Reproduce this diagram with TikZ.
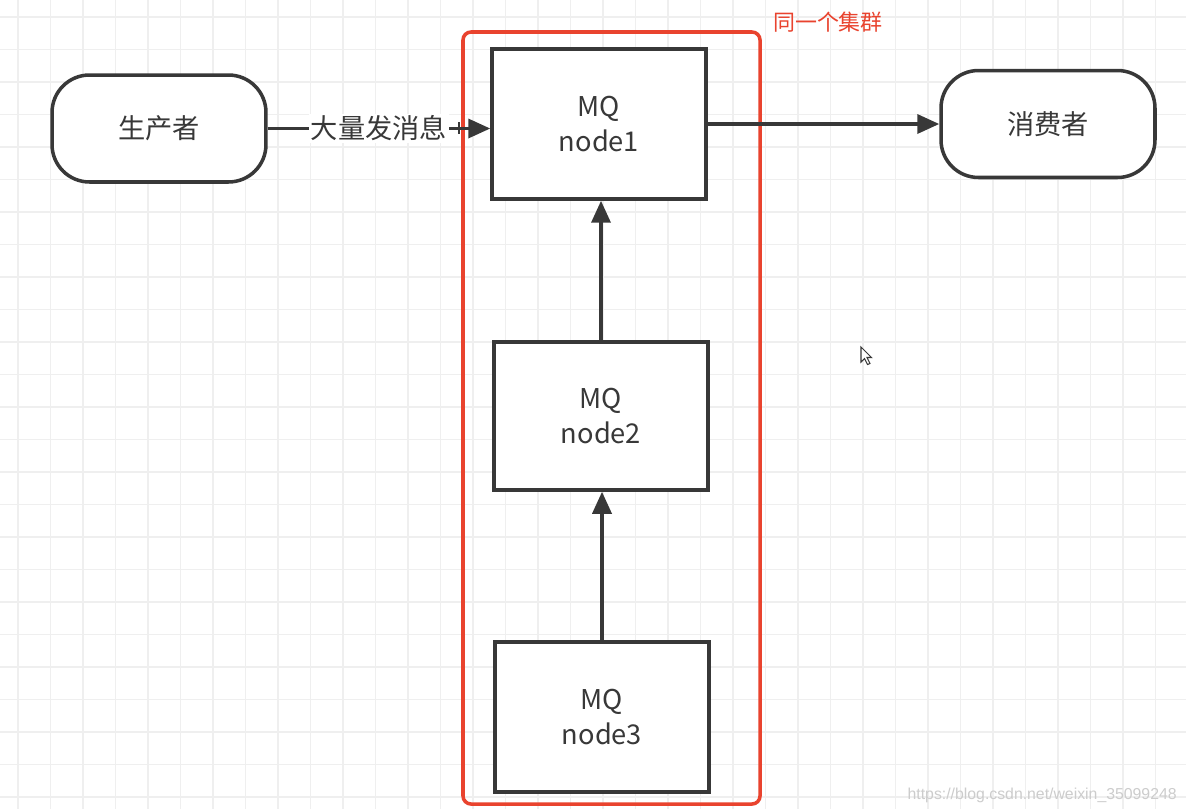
\documentclass[tikz,border=0pt]{standalone}
\usepackage{fontspec}
\setmainfont{Noto Sans CJK SC}
\newfontfamily\urlfont{Liberation Sans}
\usetikzlibrary{positioning, arrows.meta}

\begin{document}
\begin{tikzpicture}[x=0.02cm, y=-0.02cm,
    mqbox/.style={draw=linecolor, line width=2pt, fill=white, text=linecolor, minimum width=4.28cm, minimum height=3cm, align=center, inner sep=0pt, font=\fontsize{15.5}{19.5}\selectfont},
    endbox/.style={draw=linecolor, line width=2pt, fill=white, text=linecolor, rounded corners=0.75cm, minimum width=4.28cm, minimum height=2.14cm, font=\fontsize{15.5}{19.5}\selectfont},
    flow/.style={draw=linecolor, line width=2pt, -{Triangle[length=0.44cm, width=0.38cm]}}]

    % Define colors
    \definecolor{linecolor}{RGB}{56, 56, 56}
    \definecolor{clustercolor}{RGB}{233, 67, 46}
    \definecolor{gridcolor}{RGB}{239, 239, 239}

    % Canvas
    \fill[white] (0, 0) rectangle (1186, 809);
    \useasboundingbox (0, 0) rectangle (1186, 809);

    % Grid
    \foreach \i in {0,...,35} {
        \draw[gridcolor, line width=0.6pt] (18+32.5*\i, 0) -- (18+32.5*\i, 809);
    }
    \foreach \j in {0,...,24} {
        \draw[gridcolor, line width=0.6pt] (0, 17+32.5*\j) -- (1186, 17+32.5*\j);
    }

    % Cluster frame
    \draw[clustercolor, line width=2pt, rounded corners=0.16cm] (463, 32) rectangle (760, 804);
    \node[text=clustercolor, font=\fontsize{12.5}{15}\selectfont] (clusterlabel) at (828, 22) {同一个集群};

    % Producer and consumer
    \node[endbox] (producer) at (159, 128.5) {生产者};
    \node[endbox] (consumer) at (1048, 124) {消费者};

    % MQ nodes
    \node[mqbox] (node1) at (599, 124) {MQ\\node1};
    \node[mqbox, minimum height=2.96cm] (node2) at (601, 416) {MQ\\node2};
    \node[mqbox] (node3) at (602, 717) {MQ\\node3};

    % Message flow
    \draw[flow] (producer.east) -- node[fill=white, text=linecolor, inner sep=1pt, font=\fontsize{15.5}{19.5}\selectfont] (sendlabel) {大量发消息} (producer.east -| node1.west);
    \draw[linecolor, line width=1.4pt] (459, 122) -- (459, 134);
    \draw[flow] (node2.north) -- (node2.north |- node1.south);
    \draw[flow] (node3.north) -- (node3.north |- node2.south);
    \draw[flow] (node1.east) -- (consumer.west);

    % Cursor
    \draw[linecolor, fill=white, line width=0.6pt] (861, 347) -- (861, 362) -- (864.5, 358.5) -- (867.5, 364.5) -- (870, 363.5) -- (867, 357.5) -- (871.5, 357.5) -- cycle;

    % Watermark
    \node[anchor=east, text=black!20, inner sep=0pt, font=\urlfont\fontsize{9}{11}\selectfont] (watermark) at (1177, 795) {https://blog.csdn.net/weixin\_35099248};

\end{tikzpicture}
\end{document}
